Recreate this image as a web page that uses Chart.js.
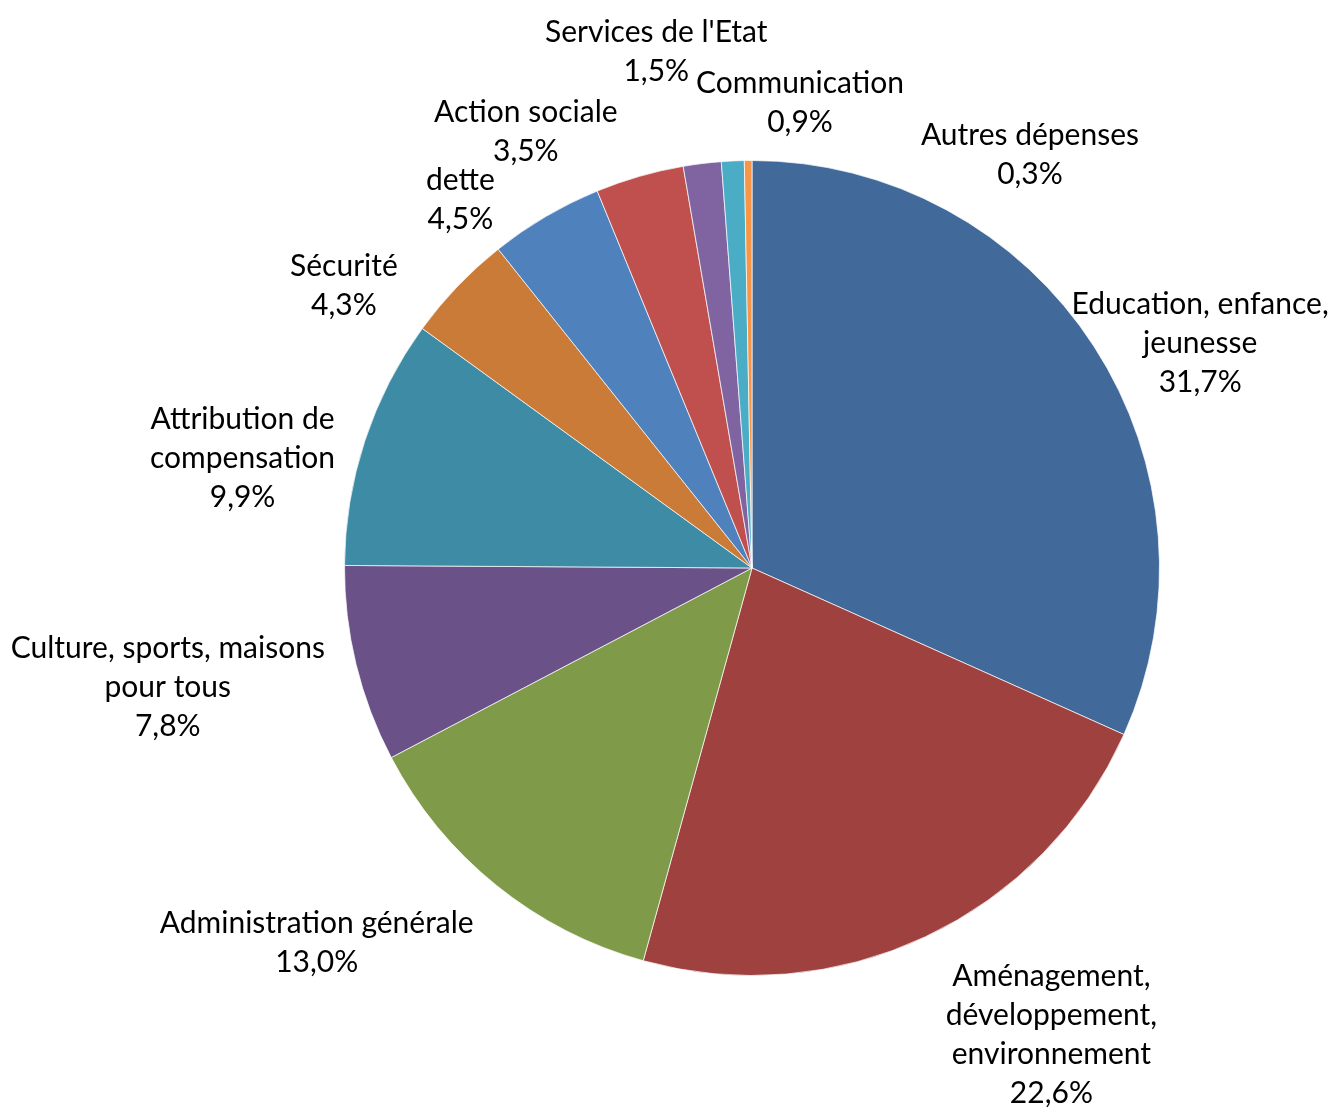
<!DOCTYPE html>
<html>
<head>
<meta charset="utf-8">
<script src="https://cdn.jsdelivr.net/npm/chart.js@4/dist/chart.umd.min.js"></script>
<style>
  html, body { margin: 0; padding: 0; background: #fff; }
  canvas { display: block; }
</style>
</head>
<body>
<canvas id="budget" width="1332" height="1109"></canvas>
<script>
// spending split, clockwise from the top
const categories = [
    ['Education, enfance,', 'jeunesse'],
    ['Aménagement,', 'développement,', 'environnement'],
    ['Administration générale'],
    ['Culture, sports, maisons', 'pour tous'],
    ['Attribution de', 'compensation'],
    ['Sécurité'],
    ['dette'],
    ['Action sociale'],
    ["Services de l'Etat"],
    ['Communication'],
    ['Autres dépenses'],
];
const shares = [31.7, 22.6, 13.0, 7.8, 9.9, 4.3, 4.5, 3.5, 1.5, 0.9, 0.3];
const colors = [
    '#416A9B', '#9E413F', '#7F9B4A', '#6A5187', '#3D8BA4', '#CB7B38',
    '#4F81BD', '#C0504D', '#8064A2', '#4BACC6', '#F79646',
];

// where each label sits: angle (deg, clockwise from top) and distance as a multiple of the radius
const labelAngle = [63.4, 147.3, 229.3, 258.5, 282.2, 304.7, 321.6, 332.6, 349.5, 5.9, 33.9];
const labelDist = [1.230, 1.360, 1.409, 1.463, 1.279, 1.218, 1.152, 1.206, 1.289, 1.147, 1.223];

const fontSize = 30;
const lineHeight = 39;
const fontFamily = 'Lato, "Open Sans", sans-serif';

const fmt = (v) => v.toFixed(1).replace('.', ',') + '%';

const outsideLabels = {
    id: 'outsideLabels',
    afterDatasetsDraw(chart) {
        const { ctx } = chart;
        const arcs = chart.getDatasetMeta(0).data;
        ctx.save();
        ctx.fillStyle = '#000';
        ctx.font = `${fontSize}px ${fontFamily}`;
        ctx.textAlign = 'center';
        ctx.textBaseline = 'middle';
        arcs.forEach((arc, i) => {
            const a = labelAngle[i] * Math.PI / 180;
            const d = arc.outerRadius * labelDist[i];
            const cx = arc.x + Math.sin(a) * d;
            const cy = arc.y - Math.cos(a) * d;
            const lines = categories[i].concat(fmt(shares[i]));
            const top = cy - (lines.length - 1) * lineHeight / 2;
            lines.forEach((t, k) => ctx.fillText(t, cx, top + k * lineHeight));
        });
        ctx.restore();
    },
};

new Chart(document.getElementById('budget'), {
    type: 'pie',
    data: {
        labels: categories.map((c) => c.join(' ')),
        datasets: [{
            data: shares,
            backgroundColor: colors,
            borderColor: 'rgba(255,255,255,0.7)',
            borderWidth: 1,
        }],
    },
    options: {
        responsive: false,
        animation: false,
        layout: { padding: { left: 344, right: 172, top: 160, bottom: 133 } },
        plugins: {
            legend: { display: false },
            tooltip: { enabled: false },
        },
    },
    plugins: [outsideLabels],
});
</script>
</body>
</html>
